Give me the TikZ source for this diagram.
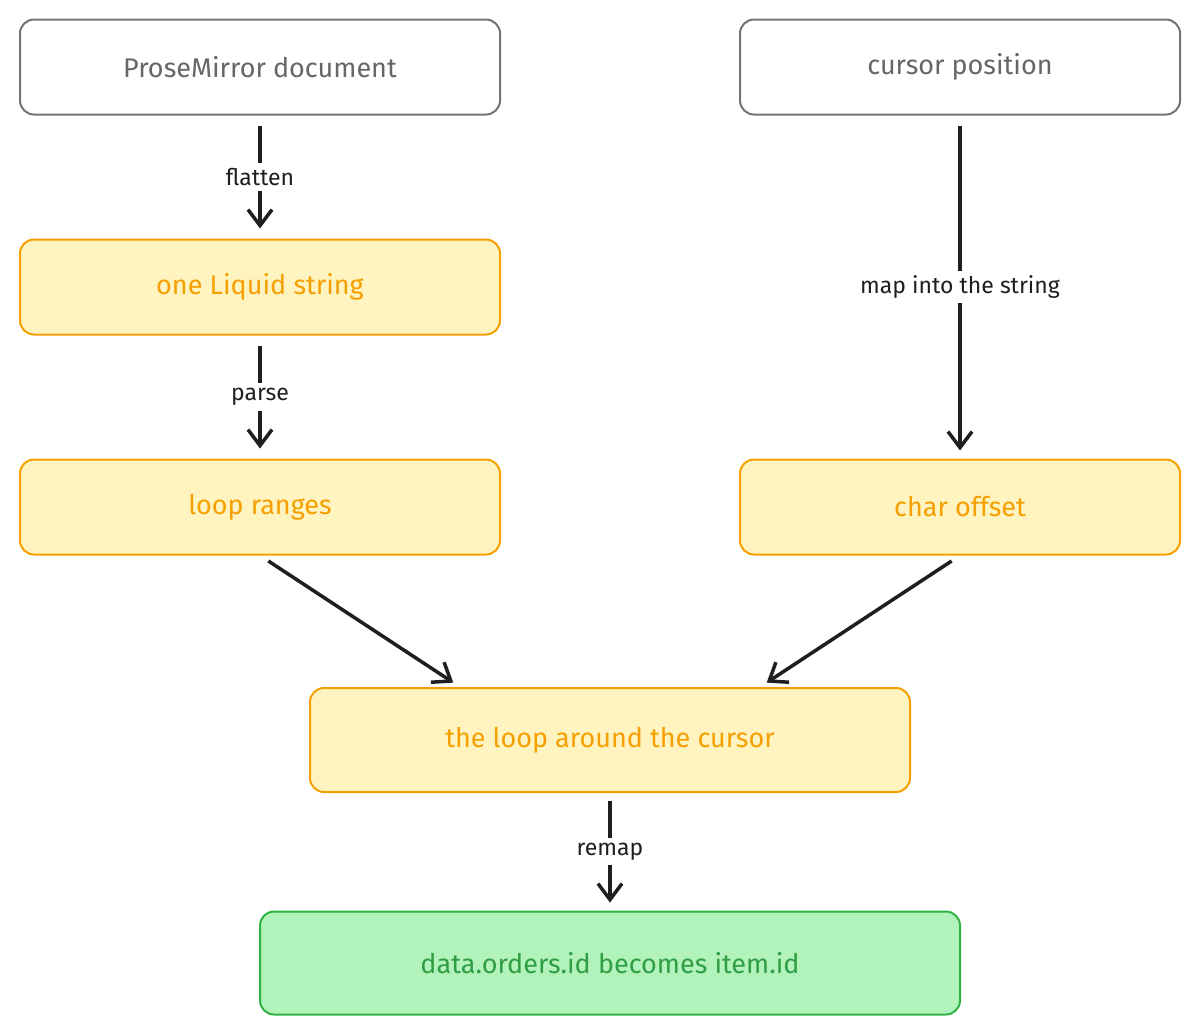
\documentclass[tikz,border=0pt]{standalone}
\usepackage{fontspec}
\setmainfont{Fira Sans}
\usetikzlibrary{arrows.meta}
\definecolor{yfill}{HTML}{FFF3BF}
\definecolor{ydraw}{HTML}{F59F00}
\definecolor{gfill}{HTML}{B2F2BB}
\definecolor{gdraw}{HTML}{2FB344}
\definecolor{gtext}{HTML}{2F9E44}
\begin{document}
\begin{tikzpicture}[x=1pt,y=-1pt,
  box/.style={rounded corners=14pt,line width=2pt,font=\fontsize{27}{32}\selectfont},
  plain/.style={box,draw=black!55,fill=white,text=black!60},
  yel/.style={box,draw=ydraw,fill=yfill,text=ydraw},
  grn/.style={box,draw=gdraw,fill=gfill,text=gtext},
  arr/.style={line width=3.5pt,draw=black!88,-{Straight Barb[length=16pt,width=24pt,line width=3.5pt]}},
  lbl/.style={fill=white,font=\fontsize{23}{27}\selectfont,text=black!88,inner sep=5pt}]
\useasboundingbox (0,0) rectangle (1200,1036);
\node[plain,minimum width=480pt,minimum height=95pt] (pm) at (260,67) {ProseMirror document};
\node[plain,minimum width=440pt,minimum height=95pt] (cp) at (960,67) {cursor position};
\node[yel,minimum width=480pt,minimum height=95pt] (ls) at (260,287) {one Liquid string};
\node[yel,minimum width=480pt,minimum height=95pt] (lr) at (260,507) {loop ranges};
\node[yel,minimum width=440pt,minimum height=95pt] (co) at (960,507) {char offset};
\node[yel,minimum width=600pt,minimum height=104pt] (lc) at (610,740) {the loop around the cursor};
\node[grn,minimum width=700pt,minimum height=103pt] (dt) at (610,963) {data.orders.id becomes item.id};
\draw[arr,shorten <=10pt,shorten >=10pt] (pm) -- node[lbl]{flatten} (ls);
\draw[arr,shorten <=10pt,shorten >=10pt] (ls) -- node[lbl]{parse} (lr);
\draw[arr,shorten <=10pt,shorten >=8pt] (cp) -- node[lbl]{map into the string} (co);
\draw[arr,shorten <=10pt,shorten >=8pt] (lr.south) -- ([xshift=-150pt]lc.north);
\draw[arr,shorten <=10pt,shorten >=8pt] (co.south) -- ([xshift=150pt]lc.north);
\draw[arr,shorten <=8pt,shorten >=8pt] (lc) -- node[lbl]{remap} (dt);
\end{tikzpicture}
\end{document}
